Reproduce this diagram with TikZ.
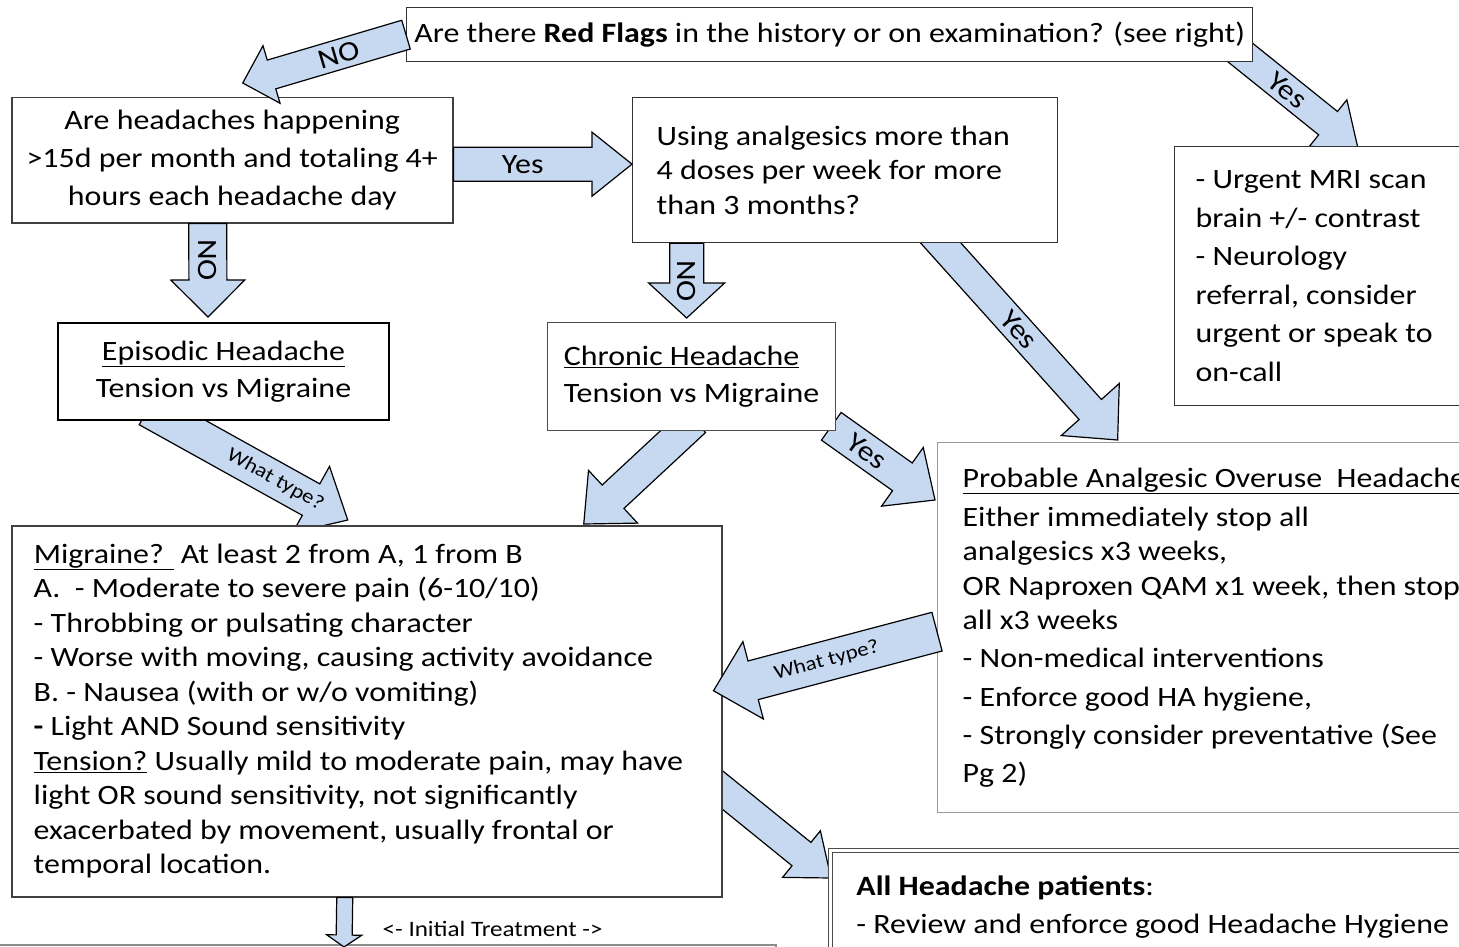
\documentclass[tikz,border=0pt]{standalone}
\usepackage{fontspec}
\setmainfont{Carlito}[FakeStretch=1.14]
\usetikzlibrary{calc,backgrounds}

\definecolor{arrowfill}{RGB}{198,217,241}

% block arrow: [label options]{tail}{tip}{half shaft}{half head}{head length}{label}
\newcommand{\fatarrow}[7][]{%
  \coordinate (fa-s) at (#2);
  \coordinate (fa-e) at (#3);
  \coordinate (fa-h) at ($(fa-e)!#6!(fa-s)$);
  \draw[bigarrow] ($(fa-s)!#4!90:(fa-e)$) -- ($(fa-h)!#4!90:(fa-e)$)
    -- ($(fa-h)!#5!90:(fa-e)$) -- (fa-e) -- ($(fa-h)!#5!-90:(fa-e)$)
    -- ($(fa-h)!#4!-90:(fa-e)$) -- ($(fa-s)!#4!-90:(fa-e)$) -- cycle;
  \if\relax\detokenize{#7}\relax\else
    \path (fa-s) -- (fa-h) node[arrowlbl,midway,#1] {#7};
  \fi
}

\begin{document}
\begin{tikzpicture}[x=1pt,y=-1pt,
   box/.style={draw=black!75, line width=1.3pt, fill=white, anchor=north west,
      inner ysep=0pt, font=\fontsize{28}{34.5}\selectfont,
      execute at begin node={\spaceskip=0pt\xspaceskip=0pt}},
   bigarrow/.style={draw=black, line width=1.2pt, fill=arrowfill, line join=miter},
   arrowlbl/.style={inner sep=0pt, font=\fontsize{28}{32}\selectfont},
   smalllbl/.style={font=\fontsize{20}{24}\selectfont}
]
\useasboundingbox (0,0) rectangle (1459,947);
\clip (0,0) rectangle (1459,947);

% question boxes
\node[box, draw=black!80, minimum width=846pt, minimum height=54pt, align=flush center] (redflag) at (406,7)
   {Are there \textbf{Red Flags} in the history or on examination? (see right)};
\node[box, line width=1.5pt, minimum width=441pt, minimum height=125pt, align=flush center,
   font=\fontsize{28}{38}\selectfont] (q1) at (11,97)
   {Are headaches happening\\ >15d per month and totaling 4+\\ hours each headache day};
\node[box, draw=black!80, minimum height=145pt, text width=377pt, inner xsep=24pt, align=flush left] (q2) at (632,97)
   {Using analgesics more than\\ 4 doses per week for more\\ than 3 months?};
\node[box, draw=black!80, minimum height=259pt, text width=300pt, inner xsep=21pt, align=flush left,
   font=\fontsize{28}{38.5}\selectfont] (urgent) at (1174,146)
   {- Urgent MRI scan\\ brain +/- contrast\\ - Neurology\\ referral, consider\\ urgent or speak to\\ on-call};

% type boxes
\node[box, draw=black, line width=2pt, minimum width=331pt, minimum height=97pt, align=flush center,
   font=\fontsize{28}{37}\selectfont] (episodic) at (57,322)
   {\underline{Episodic Headache}\\ Tension vs Migraine};
\node[box, draw=black!70, minimum width=288pt, minimum height=108pt, inner xsep=0pt, align=flush left,
   font=\fontsize{28}{37}\selectfont] (chronic) at (547,322)
   {\underline{Chronic Headache}\\ Tension vs Migraine};
\node[box, draw=black!40, minimum height=370pt, text width=540pt, inner xsep=25pt, align=flush left] (overuse) at (937,442)
   {\underline{Probable Analgesic Overuse~ Headache}\\[4.5pt]
    Either immediately stop all\\ analgesics x3 weeks,\\ OR Naproxen QAM x1 week, then stop\\
    all x3 weeks\\[3.5pt] - Non-medical interventions\\[4.5pt] - Enforce good HA hygiene,\\[3.5pt]
    - Strongly consider preventative (See\\[3.5pt] Pg 2)};
\node[box, line width=1.5pt, minimum height=371pt, text width=666pt, inner xsep=22pt, align=flush left] (migraine) at (11,525)
   {\underline{Migraine? } At least 2 from A, 1 from B\\
    A.~ - Moderate to severe pain (6-10/10)\\
    - Throbbing or pulsating character\\
    - Worse with moving, causing activity avoidance\\
    B. - Nausea (with or w/o vomiting)\\
    \textbf{-} Light AND Sound sensitivity\\
    \underline{Tension?} Usually mild to moderate pain, may have\\
    light OR sound sensitivity, not significantly\\
    exacerbated by movement, usually frontal or\\
    temporal location.};
\node[box, draw=black!70, line width=0.9pt, double, double distance=2.5pt, text width=650pt,
   inner xsep=26pt, inner ysep=25pt, align=flush left, font=\fontsize{28}{38}\selectfont] (allpat) at (830,850)
   {\textbf{All Headache patients}:\\ - Review and enforce good Headache Hygiene};
\node[box, draw=black!45, line width=2pt, minimum width=780pt, minimum height=80pt] (treat) at (-5,944) {};

% arrows coming from under the boxes
\begin{pgfonlayer}{background}
\fatarrow[sloped,pos=.6]{[xshift=-27pt,yshift=21pt]redflag.south east}{[xshift=12pt,yshift=-1pt]urgent.north}{15pt}{30pt}{38pt}{Yes}
\fatarrow[sloped,pos=.55]{[xshift=86pt,yshift=11pt]q2.south}{[xshift=-115pt,yshift=2pt]overuse.north}{15pt}{39pt}{41pt}{Yes}
\fatarrow{[xshift=3pt,yshift=10.5pt]chronic.south}{[xshift=217pt,yshift=1pt]migraine.north}{16pt}{36pt}{40pt}{}
\fatarrow[sloped]{[xshift=-5pt,yshift=5pt]chronic.south east}{[xshift=-2pt,yshift=-58pt]overuse.north west}{17pt}{36pt}{40pt}{Yes}
\fatarrow[sloped,pos=.78,smalllbl]{[xshift=-75.5pt,yshift=12pt]episodic.south}{[xshift=-19pt,yshift=5pt]migraine.north}{18pt}{38pt}{42pt}{What type?}
\fatarrow{[xshift=-9pt,yshift=-71.5pt]migraine.east}{[xshift=1pt,yshift=-28pt]allpat.north west}{15pt}{30pt}{38pt}{}
\end{pgfonlayer}

% arrows on top
\fatarrow[sloped]{redflag.west}{[xshift=10.5pt,yshift=14pt]q1.north}{15pt}{30pt}{30pt}{NO}
\fatarrow{[yshift=-4pt]q1.east}{[yshift=6pt]q2.west}{17pt}{32pt}{40pt}{Yes}
\fatarrow[rotate=-90,pos=.65]{[xshift=-24.5pt]q1.south}{[xshift=-15.5pt,yshift=5pt]episodic.north}{19pt}{37pt}{37pt}{NO}
\fatarrow[rotate=-90,pos=.95]{[xshift=-158.5pt]q2.south}{[xshift=-5pt,yshift=4pt]chronic.north}{17pt}{38pt}{35pt}{NO}
\fatarrow[sloped,pos=.6,smalllbl]{[yshift=-4pt]overuse.west}{[xshift=-9pt,yshift=20.5pt]migraine.east}{20pt}{40pt}{41pt}{What type?}
\fatarrow[anchor=west,xshift=38pt,yshift=-12.5pt,font=\fontsize{22}{26}\selectfont]{[xshift=-22pt]migraine.south}{[xshift=349pt,yshift=-3pt]treat.north west}{8pt}{17.5pt}{12pt}{<- Initial Treatment ->}
\end{tikzpicture}
\end{document}
